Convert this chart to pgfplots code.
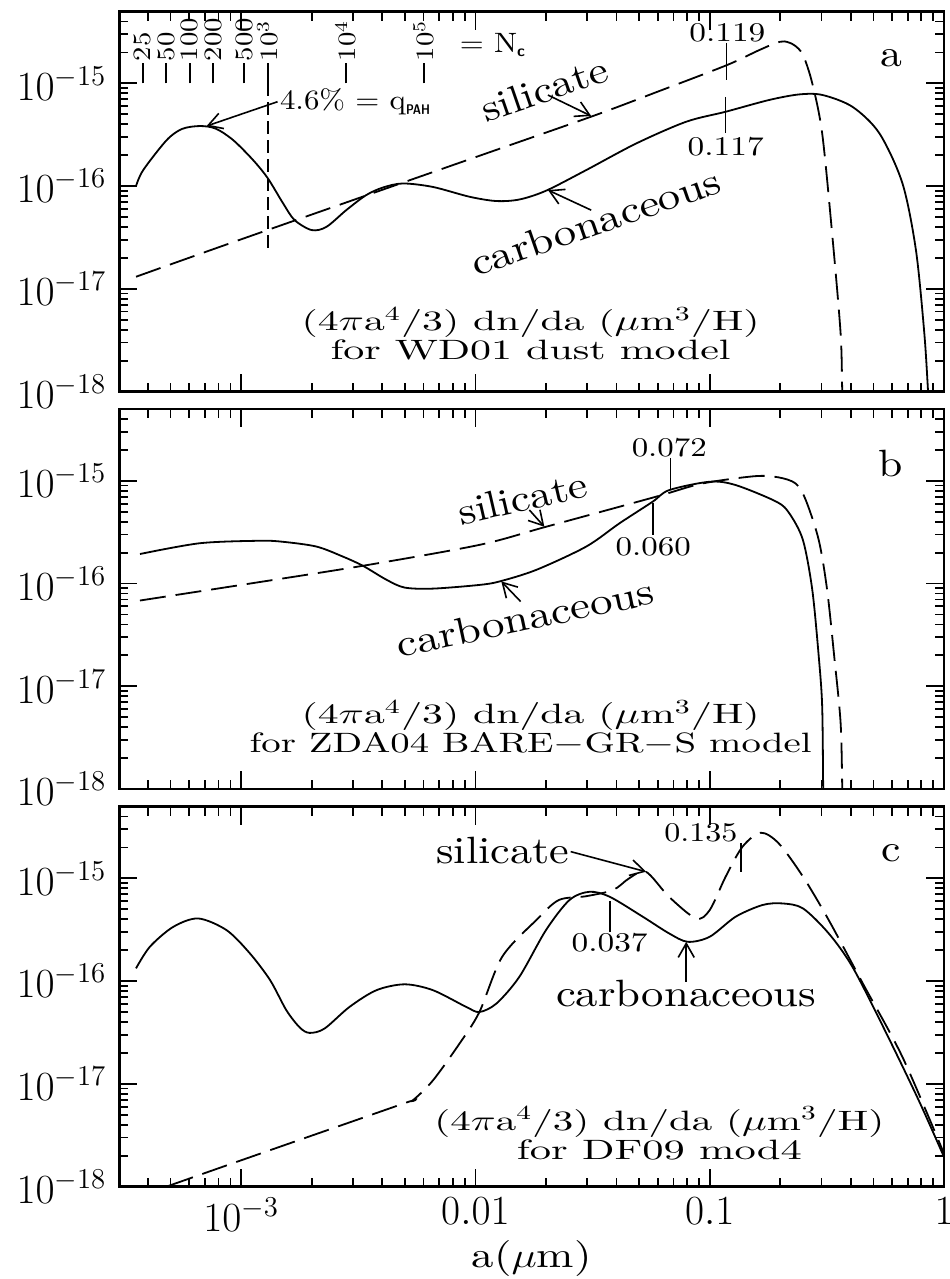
\documentclass[border=0pt]{standalone}
\usepackage{fontspec}
\usepackage{pgfplots}
\pgfplotsset{compat=1.18}
\usetikzlibrary{arrows.meta}
\newfontfamily\tenr{lmroman10-regular.otf}
\newcommand\LBL{\tenr\fontsize{19}{19}\selectfont}
\newcommand\DSC{\tenr\fontsize{14}{14.5}\selectfont}
\newcommand\NUM{\tenr\fontsize{13.5}{13.5}\selectfont}
\newcommand\NCF{\tenr\fontsize{12.5}{12.5}\selectfont}
\newcommand\TLF{\fontsize{20}{20}\selectfont}
\newcommand\sx[2]{\scalebox{#1}[1]{#2}}
\newcommand\rw[2]{\resizebox{#1}{\height}{#2}}
\tikzset{arr/.style={-{Straight Barb[length=7pt,width=8pt]}, line width=0.8pt}}

\pgfplotstableread{
x y
3.56e-4 1.0e-16
3.82e-4 1.43e-16
4.81e-4 2.8e-16
5.6e-4 3.6e-16
6.67e-4 3.84e-16
7.8e-4 3.62e-16
9.25e-4 2.8e-16
1.125e-3 1.79e-16
1.30e-3 1.19e-16
1.51e-3 6.8e-17
1.69e-3 4.67e-17
2.0e-3 3.73e-17
2.31e-3 4.0e-17
2.81e-3 5.83e-17
3.42e-3 8.17e-17
4.04e-3 9.7e-17
4.91e-3 1.06e-16
6.59e-3 9.8e-17
9.44e-3 7.87e-17
1.227e-2 7.15e-17
1.54e-2 7.4e-17
2.0e-2 9.0e-17
2.97e-2 1.43e-16
4.86e-2 2.6e-16
7.94e-2 4.23e-16
0.117 5.29e-16
0.179 6.88e-16
0.241 7.8e-16
0.303 7.7e-16
0.407 5.9e-16
0.53 3.26e-16
0.665 1.06e-16
0.759 2.38e-17
0.824 3.7e-18
0.855 1.0e-18
0.87 5e-19
}\Acar
\pgfplotstableread{
x y
3.56e-4 1.31e-17
1e-3 3.03e-17
1e-2 1.91e-16
3.17e-2 4.8e-16
6e-2 8.3e-16
0.118 1.5e-15
0.16 2.07e-15
0.19 2.45e-15
0.208 2.56e-15
0.229 2.36e-15
0.25 1.89e-15
0.274 1.0e-15
0.302 3.26e-16
0.333 3.47e-17
0.362 3.68e-18
0.368 1e-18
0.375 5e-19
}\Asil
\pgfplotstableread{
x y
3.7e-4 1.94e-16
6.67e-4 2.47e-16
1.2e-3 2.61e-16
1.51e-3 2.55e-16
2.1e-3 2.29e-16
2.72e-3 1.83e-16
3.31e-3 1.49e-16
4.17e-3 1.09e-16
4.99e-3 9.14e-17
6.59e-3 8.93e-17
1.04e-2 9.7e-17
1.27e-2 1.05e-16
1.82e-2 1.36e-16
2.97e-2 2.29e-16
4.12e-2 3.86e-16
5.7e-2 6.25e-16
6.71e-2 8.12e-16
0.1 9.8e-16
0.129 9.1e-16
0.193 6.25e-16
0.219 4.8e-16
0.25 2.65e-16
0.274 8.7e-17
0.292 1.95e-17
0.302 6.4e-18
0.305 1e-18
0.306 5e-19
}\Bcar
\pgfplotstableread{
x y
3.7e-4 6.84e-17
1e-3 9.7e-17
3.31e-3 1.49e-16
1.04e-2 2.38e-16
2.0e-2 3.57e-16
5.89e-2 7.0e-16
9.26e-2 9.4e-16
0.156 1.11e-15
0.197 1.08e-15
0.233 9.4e-16
0.257 6.5e-16
0.292 2.65e-16
0.317 8.7e-17
0.34 1.95e-17
0.362 4.4e-18
0.368 1e-18
0.371 5e-19
}\Bsil
\pgfplotstableread{
x y
3.56e-4 1.33e-16
4.08e-4 2.16e-16
5.13e-4 3.37e-16
6.56e-4 4.07e-16
8.67e-4 3.13e-16
1.09e-3 1.86e-16
1.33e-3 1.02e-16
1.56e-3 5.2e-17
1.78e-3 3.53e-17
1.96e-3 3.13e-17
2.27e-3 3.45e-17
2.9e-3 5.6e-17
3.78e-3 8.15e-17
4.99e-3 9.3e-17
6.59e-3 8.15e-17
9.14e-3 5.6e-17
1.04e-2 5.0e-17
1.23e-2 6.05e-17
1.54e-2 1.1e-16
2.0e-2 3.13e-16
2.52e-2 6.15e-16
3.07e-2 7.4e-16
3.75e-2 6.6e-16
5.18e-2 4.23e-16
6.71e-2 2.91e-16
8.06e-2 2.41e-16
0.1 2.7e-16
0.129 4.23e-16
0.168 5.5e-16
0.204 5.7e-16
0.25 5.1e-16
0.322 2.91e-16
0.407 1.37e-16
0.56 3.3e-17
0.78 6.9e-18
1.0 1.94e-18
}\Ccar
\pgfplotstableread{
x y
3.5e-4 7.8e-19
4.81e-4 1.0e-18
1e-3 1.8e-18
4.91e-3 6.4e-18
5.4e-3 6.9e-18
6.59e-3 1.08e-17
8.56e-3 2.47e-17
1.04e-2 5.0e-17
1.3e-2 1.72e-16
1.82e-2 3.93e-16
2.27e-2 6.15e-16
2.97e-2 6.7e-16
3.87e-2 7.7e-16
4.53e-2 1.0e-15
5.34e-2 1.16e-15
6.71e-2 6.6e-16
8.74e-2 4.07e-16
0.1 4.91e-16
0.117 1.04e-15
0.138 2.03e-15
0.165 2.78e-15
0.197 2.19e-15
0.25 1.04e-15
0.322 3.93e-16
0.45 9.5e-17
0.665 1.82e-17
1.0 2.09e-18
}\Csil

\pgfplotsset{
  every axis/.append style={
    scale only axis,
    width=412.35pt, height=190pt, anchor=north west,
    xmin=3.02e-4, xmax=1, ymin=1e-18, ymax=5e-15,
    axis line style={line width=1.4pt},
    tick style={line width=0.9pt, black},
    major tick length=9pt, minor tick length=4.5pt,
    xtick={1e-3,1e-2,1e-1,1},
    minor xtick={4e-4,5e-4,6e-4,7e-4,8e-4,9e-4,2e-3,3e-3,4e-3,5e-3,6e-3,7e-3,8e-3,9e-3,0.02,0.03,0.04,0.05,0.06,0.07,0.08,0.09,0.2,0.3,0.4,0.5,0.6,0.7,0.8,0.9},
    ytick={1e-18,1e-17,1e-16,1e-15},
    minor ytick={2e-18,3e-18,4e-18,5e-18,6e-18,7e-18,8e-18,9e-18,2e-17,3e-17,4e-17,5e-17,6e-17,7e-17,8e-17,9e-17,2e-16,3e-16,4e-16,5e-16,6e-16,7e-16,8e-16,9e-16,2e-15,3e-15,4e-15},
    tick label style={font=\TLF},
    yticklabel style={xshift=-3pt},
    xticklabel style={yshift=-2pt},
  },
}
\tikzset{
  carline/.style={black, line width=0.9pt, smooth, tension=0.5},
  silline/.style={black, line width=0.9pt, smooth, tension=0.5, dash pattern=on 13pt off 5pt},
}
\newcommand\Nc[2]{\draw[line width=0.9pt] (axis cs:#1,1e-15) -- (axis cs:#1,1.58e-15) node[anchor=west, rotate=90, inner sep=0.5pt, font=\NCF] {\sx{1.15}{#2}};}

\begin{document}
\begin{tikzpicture}
\path[use as bounding box] (0,0) rectangle (474.5pt,-639.5pt);

% ---------- panel a ----------
\begin{loglogaxis}[at={(59.65pt,-5.75pt)}, xticklabels={}]
\addplot[carline] table {\Acar};
\addplot[silline] table {\Asil};
\Nc{3.8e-4}{25}
\Nc{4.79e-4}{50}
\Nc{6.03e-4}{100}
\Nc{7.6e-4}{200}
\Nc{1.03e-3}{500}
\Nc{1.30e-3}{10$^3$}
\Nc{2.8e-3}{10$^4$}
\Nc{6.03e-3}{10$^5$}
\node[anchor=west, font=\DSC, inner sep=0pt] at (axis cs:8.55e-3,2.36e-15) {\sx{1.1}{= N}{\fontsize{8}{8}\selectfont\sffamily\bfseries\raisebox{-0.5ex}{c}}};
\draw[line width=0.9pt, dash pattern=on 6.5pt off 3pt] (axis cs:1.30e-3,1e-15) -- (axis cs:1.30e-3,2.23e-17);
\node[anchor=west, font=\DSC, inner sep=0pt] at (axis cs:1.46e-3,6.57e-16) {\rw{63pt}{4.6\% = q}{\fontsize{7}{7}\selectfont\sffamily\bfseries\raisebox{-0.7ex}{\sx{0.8}{PAH}}}};
\draw[arr] (axis cs:1.43e-3,6.62e-16) -- (axis cs:7.12e-4,3.84e-16);
\node[font=\LBL, rotate=19] at (axis cs:0.0197,8.79e-16) {\rw{66pt}{silicate}};
\draw[arr] (axis cs:0.0204,7.69e-16) -- (axis cs:0.0312,4.81e-16);
\node[font=\LBL, rotate=19] at (axis cs:0.0326,4.49e-17) {\rw{131pt}{carbonaceous}};
\draw[arr] (axis cs:0.0312,5.83e-17) -- (axis cs:0.0204,9.14e-17);
\draw[line width=0.9pt] (axis cs:0.118,2.47e-15) -- (axis cs:0.118,1.08e-15);
\node[font=\NUM] at (axis cs:0.119,3.09e-15) {\rw{38pt}{0.119}};
\draw[line width=0.9pt] (axis cs:0.1167,7.4e-16) -- (axis cs:0.1167,3.28e-16);
\node[font=\NUM] at (axis cs:0.117,2.4e-16) {\rw{38pt}{0.117}};
\node[font=\LBL] at (axis cs:0.594,1.76e-15) {\sx{1.15}{a}};
\node[align=center, font=\DSC] at (axis cs:0.0172,3.65e-18) {\rw{229pt}{(4$\pi$a$^4$/3) dn/da ($\mu$m$^3$/H)}\\\rw{200pt}{for WD01 dust model}};
\end{loglogaxis}

% ---------- panel b ----------
\begin{loglogaxis}[at={(59.65pt,-204.5pt)}, xticklabels={}]
\addplot[carline] table {\Bcar};
\addplot[silline] table {\Bsil};
\node[font=\LBL, rotate=13] at (axis cs:0.0159,6.8e-16) {\rw{66pt}{silicate}};
\draw[arr] (axis cs:0.017,5.2e-16) -- (axis cs:0.0197,3.57e-16);
\node[font=\LBL, rotate=12] at (axis cs:0.01633,4.65e-17) {\rw{131pt}{carbonaceous}};
\draw[arr] (axis cs:0.0156,6.68e-17) -- (axis cs:0.0129,1.05e-16);
\draw[line width=0.9pt] (axis cs:0.068,1.66e-15) -- (axis cs:0.068,8.26e-16);
\node[font=\NUM] at (axis cs:0.0672,2.08e-15) {\rw{37.5pt}{0.072}};
\draw[line width=0.9pt] (axis cs:0.0574,6.04e-16) -- (axis cs:0.0574,2.97e-16);
\node[font=\NUM] at (axis cs:0.0574,2.27e-16) {\rw{37.5pt}{0.060}};
\node[font=\LBL] at (axis cs:0.594,1.49e-15) {\sx{1.15}{b}};
\node[align=center, font=\DSC] at (axis cs:0.0172,3.97e-18) {\rw{229pt}{(4$\pi$a$^4$/3) dn/da ($\mu$m$^3$/H)}\\\rw{281pt}{for ZDA04 BARE$-$GR$-$S model}};
\end{loglogaxis}

% ---------- panel c ----------
\begin{loglogaxis}[at={(59.65pt,-403.25pt)},
  xticklabels={$10^{-3}$,$0.01$,$0.1$,$1$},
  xlabel={\rw{60pt}{a($\mu$m)}},
  xlabel style={font=\tenr\fontsize{18}{18}\selectfont, at={(axis description cs:0.5,0)}, anchor=base, yshift=-40.5pt}]
\addplot[carline] table {\Ccar};
\addplot[silline] table {\Csil};
\node[font=\LBL, anchor=base] at (axis cs:0.01312,1.41e-15) {\rw{66.5pt}{silicate}};
\draw[arr] (axis cs:0.0255,1.82e-15) -- (axis cs:0.0535,1.16e-15);
\node[font=\LBL, anchor=base] at (axis cs:0.0793,5.61e-17) {\rw{130pt}{carbonaceous}};
\draw[arr] (axis cs:0.0794,9.8e-17) -- (axis cs:0.0794,2.41e-16);
\draw[line width=0.9pt] (axis cs:0.1355,2.19e-15) -- (axis cs:0.1355,1.16e-15);
\node[font=\NUM] at (axis cs:0.0917,2.79e-15) {\rw{36.5pt}{0.135}};
\draw[line width=0.9pt] (axis cs:0.0374,6.0e-16) -- (axis cs:0.0374,3.02e-16);
\node[font=\NUM] at (axis cs:0.0374,2.34e-16) {\rw{38pt}{0.037}};
\node[font=\LBL] at (axis cs:0.594,1.77e-15) {\sx{1.15}{c}};
\node[align=center, font=\DSC] at (axis cs:0.061,3.3e-18) {\rw{225pt}{(4$\pi$a$^4$/3) dn/da ($\mu$m$^3$/H)}\\\rw{142.5pt}{for DF09 mod4}};
\end{loglogaxis}
\end{tikzpicture}
\end{document}
